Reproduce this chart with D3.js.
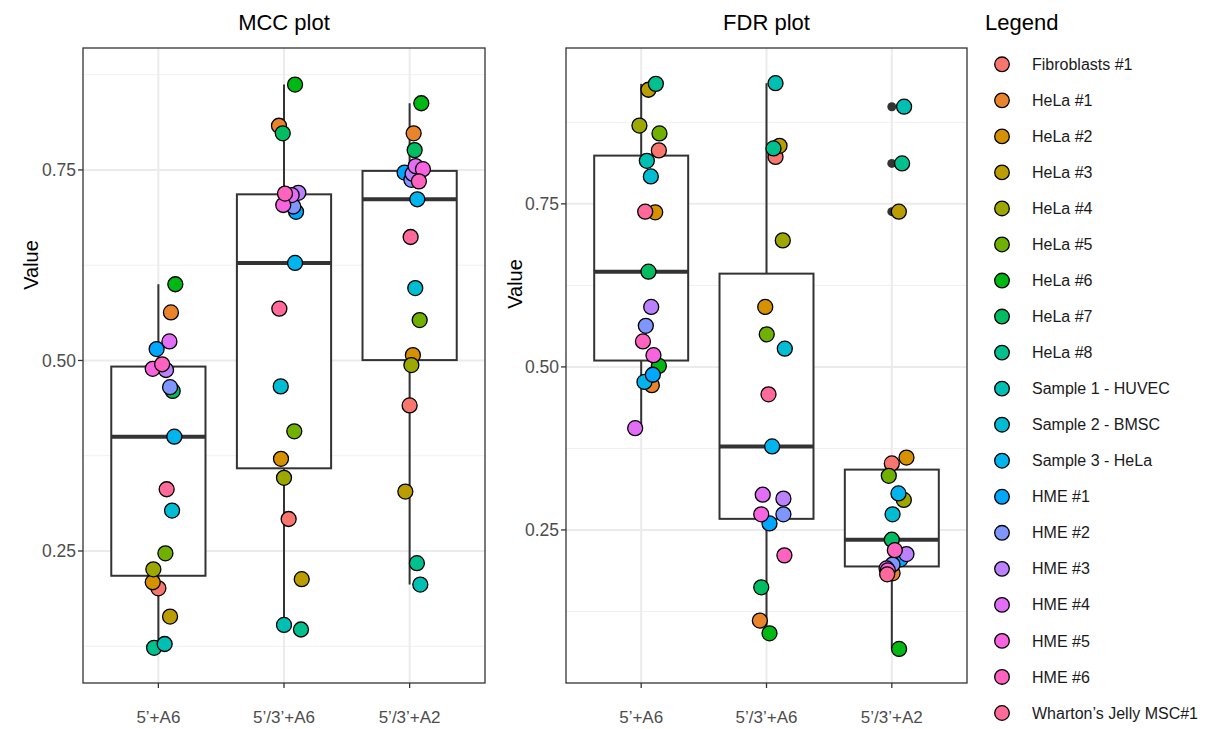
<!DOCTYPE html>
<html><head><meta charset="utf-8">
<script src="https://cdn.jsdelivr.net/npm/d3@7"></script>
<style>body{margin:0;background:#fff;} svg{display:block;font-family:"Liberation Sans",Arial,sans-serif;}</style>
</head><body><svg id="c" width="1215" height="729"></svg>
<script>
const samples = ["Fibroblasts #1","HeLa #1","HeLa #2","HeLa #3","HeLa #4","HeLa #5","HeLa #6","HeLa #7","HeLa #8",
  "Sample 1 - HUVEC","Sample 2 - BMSC","Sample 3 - HeLa","HME #1","HME #2","HME #3","HME #4","HME #5","HME #6","Wharton’s Jelly MSC#1"];
const categories = ["5’+A6","5’/3’+A6","5’/3’+A2"];
const yTicks = [0.25, 0.5, 0.75];
const yTickLabels = ["0.25","0.50","0.75"];

// MCC values, one per sample (legend order)
const mcc5A6   = [0.201,0.563,0.209,0.164,0.226,0.247,0.600,0.460,0.123,0.128,0.303,0.400,0.515,0.465,0.4875,0.525,0.489,0.495,0.331];
const mcc53A6  = [0.292,0.808,0.371,0.213,0.346,0.407,0.862,0.798,0.147,0.153,0.466,0.628,0.695,0.702,0.720,0.717,0.704,0.719,0.568];
const mcc53A2  = [0.441,0.798,0.507,0.328,0.494,0.553,0.8375,0.776,0.234,0.206,0.595,0.7115,0.7465,0.737,0.745,0.755,0.751,0.735,0.662];
// FDR values
const fdr5A6   = [0.832,0.472,0.737,0.925,0.870,0.858,0.5015,0.646,0.934,0.816,0.792,0.477,0.488,0.563,0.592,0.406,0.518,0.539,0.738];
const fdr53A6  = [0.822,0.111,0.592,0.839,0.694,0.550,0.0915,0.162,0.835,0.935,0.528,0.378,0.260,0.274,0.298,0.304,0.274,0.211,0.458];
const fdr53A2  = [0.352,0.1835,0.361,0.738,0.296,0.333,0.0675,0.235,0.812,0.899,0.274,0.306,0.205,0.197,0.213,0.191,0.188,0.219,0.182];
// horizontal jitter (in category units)
const jitMcc5A6  = [0.00,0.10,-0.045,0.093,-0.04,0.056,0.135,0.114,-0.034,0.05,0.109,0.127,-0.014,0.093,0.061,0.088,-0.045,0.03,0.066];
const jitMcc53A6 = [0.037,-0.04,-0.024,0.141,0.0,0.082,0.088,-0.01,0.135,0.0,-0.026,0.088,0.096,0.074,0.114,0.061,-0.006,0.008,-0.037];
const jitMcc53A2 = [0.0,0.032,0.026,-0.034,0.014,0.08,0.093,0.04,0.058,0.085,0.045,0.061,-0.04,0.014,0.024,0.048,0.106,0.074,0.008];
const jitFdr5A6  = [0.141,0.085,0.112,0.058,-0.014,0.146,0.141,0.058,0.117,0.045,0.077,0.026,0.093,0.037,0.08,-0.048,0.098,0.014,0.032];
const jitFdr53A6 = [0.072,-0.053,-0.01,0.104,0.13,0.002,0.024,-0.042,0.056,0.072,0.146,0.045,0.024,0.135,0.135,-0.03,-0.042,0.143,0.016];
const jitFdr53A2 = [0.0,0.006,0.117,0.056,0.096,-0.024,0.058,0.0,0.082,0.098,0.006,0.053,0.069,0.006,0.117,-0.042,-0.032,0.024,-0.037];

// ggplot hue palette (polarLUV -> sRGB)
function hcl2hex(h, c, l) {
  const hr = h * Math.PI / 180, U = c * Math.cos(hr), V = c * Math.sin(hr);
  const Xn = 95.047, Yn = 100, Zn = 108.883;
  const Y = l > 8 ? Yn * Math.pow((l + 16) / 116, 3) : Yn * l / 903.3;
  const t = Xn + 15 * Yn + 3 * Zn, un = 4 * Xn / t, vn = 9 * Yn / t;
  const u = U / (13 * l) + un, v = V / (13 * l) + vn;
  const X = 9 * Y * u / (4 * v), Z = -X / 3 - 5 * Y + 3 * Y / v;
  const lin = [
    (3.240479 * X - 1.537150 * Y - 0.498535 * Z) / 100,
    (-0.969256 * X + 1.875992 * Y + 0.041556 * Z) / 100,
    (0.055648 * X - 0.204043 * Y + 1.057311 * Z) / 100];
  const g = lin.map(x => { const s = x <= 0.0031308 ? 12.92 * x : 1.055 * Math.pow(x, 1 / 2.4) - 0.055; return Math.round(Math.max(0, Math.min(1, s)) * 255); });
  return d3.rgb(g[0], g[1], g[2]).formatHex();
}
const palette = samples.map((s, i) => hcl2hex(15 + 360 * i / samples.length, 100, 65));
const color = d3.scaleOrdinal().domain(samples).range(palette);

const svg = d3.select("#c");

function panel(cfg) {
  const y = d3.scaleLinear().domain(cfg.domain).range([683, 48]);
  const x = d3.scalePoint().domain(categories).range([cfg.x0, cfg.x1]).padding(0.6);
  const g = svg.append("g");
  g.append("rect").attr("x", cfg.x0).attr("y", 48).attr("width", cfg.x1 - cfg.x0).attr("height", 635).attr("fill", "#fff");
  const minor = [0.125, 0.375, 0.625, 0.875].filter(v => v > cfg.domain[0] && v < cfg.domain[1]);
  g.selectAll(".mn").data(minor).join("line")
    .attr("x1", cfg.x0).attr("x2", cfg.x1).attr("y1", d => y(d)).attr("y2", d => y(d))
    .attr("stroke", "#F0F0F0").attr("stroke-width", 1);
  g.selectAll(".mj").data(yTicks).join("line")
    .attr("x1", cfg.x0).attr("x2", cfg.x1).attr("y1", d => y(d)).attr("y2", d => y(d))
    .attr("stroke", "#EBEBEB").attr("stroke-width", 2);
  g.selectAll(".vx").data(categories).join("line")
    .attr("x1", d => x(d)).attr("x2", d => x(d)).attr("y1", 48).attr("y2", 683)
    .attr("stroke", "#EBEBEB").attr("stroke-width", 2);

  const bw = x.step() * 0.75;
  cfg.series.forEach((vals, ci) => {
    const cat = categories[ci];
    const s = vals.slice().sort(d3.ascending);
    const q1 = d3.quantile(s, 0.25), med = d3.quantile(s, 0.5), q3 = d3.quantile(s, 0.75);
    const iqr = q3 - q1;
    const inside = s.filter(v => v >= q1 - 1.5 * iqr && v <= q3 + 1.5 * iqr);
    const lo = d3.min(inside), hi = d3.max(inside);
    const outl = s.filter(v => v < lo || v > hi);
    const cx = x(cat);
    g.append("line").attr("x1", cx).attr("x2", cx).attr("y1", y(hi)).attr("y2", y(q3)).attr("stroke", "#333").attr("stroke-width", 2);
    g.append("line").attr("x1", cx).attr("x2", cx).attr("y1", y(q1)).attr("y2", y(lo)).attr("stroke", "#333").attr("stroke-width", 2);
    g.append("rect").attr("x", cx - bw / 2).attr("y", y(q3)).attr("width", bw).attr("height", y(q1) - y(q3))
      .attr("fill", "#fff").attr("stroke", "#333").attr("stroke-width", 2);
    g.append("line").attr("x1", cx - bw / 2).attr("x2", cx + bw / 2).attr("y1", y(med)).attr("y2", y(med))
      .attr("stroke", "#333").attr("stroke-width", 4);
    g.selectAll(null).data(outl).join("circle")
      .attr("cx", cx).attr("cy", d => y(d)).attr("r", 4.5).attr("fill", "#333");
  });
  cfg.series.forEach((vals, ci) => {
    const cat = categories[ci];
    g.selectAll(null).data(vals.map((v, i) => ({v, i}))).join("circle")
      .attr("cx", d => x(cat) + cfg.jit[ci][d.i] * x.step())
      .attr("cy", d => y(d.v)).attr("r", 7.5)
      .attr("fill", d => color(samples[d.i])).attr("stroke", "#000").attr("stroke-width", 1.3);
  });
  g.append("rect").attr("x", cfg.x0).attr("y", 48).attr("width", cfg.x1 - cfg.x0).attr("height", 635)
    .attr("fill", "none").attr("stroke", "#333").attr("stroke-width", 1.3);
  g.selectAll(".yt").data(yTicks).join("line")
    .attr("x1", cfg.x0 - 5).attr("x2", cfg.x0).attr("y1", d => y(d)).attr("y2", d => y(d)).attr("stroke", "#333").attr("stroke-width", 1.3);
  g.selectAll(".yl").data(yTicks).join("text")
    .attr("x", cfg.x0 - 7).attr("y", d => y(d)).attr("dy", "0.35em").attr("text-anchor", "end")
    .attr("font-size", 17.5).attr("fill", "#4D4D4D").text((d, i) => yTickLabels[i]);
  g.selectAll(".xt").data(categories).join("line")
    .attr("x1", d => x(d)).attr("x2", d => x(d)).attr("y1", 683).attr("y2", 688).attr("stroke", "#333").attr("stroke-width", 1.3);
  g.selectAll(".xl").data(categories).join("text")
    .attr("x", d => x(d)).attr("y", 723).attr("text-anchor", "middle")
    .attr("font-size", 17).attr("fill", "#4D4D4D").text(d => d);
  g.append("text").attr("x", (cfg.x0 + cfg.x1) / 2).attr("y", 30).attr("text-anchor", "middle")
    .attr("font-size", 22).attr("fill", "#000").text(cfg.title);
  g.append("text").attr("transform", `translate(${cfg.ytx},${cfg.yty}) rotate(-90)`).attr("text-anchor", "middle")
    .attr("dy", "0.35em").attr("font-size", 20).attr("fill", "#000").text("Value");
}

panel({x0: 83, x1: 485, domain: [0.0768, 0.910], title: "MCC plot", ytx: 31, yty: 265,
  series: [mcc5A6, mcc53A6, mcc53A2], jit: [jitMcc5A6, jitMcc53A6, jitMcc53A2]});
panel({x0: 566, x1: 967, domain: [0.0153, 0.989], title: "FDR plot", ytx: 515, yty: 284,
  series: [fdr5A6, fdr53A6, fdr53A2], jit: [jitFdr5A6, jitFdr53A6, jitFdr53A2]});

const lg = svg.append("g");
lg.append("text").attr("x", 985).attr("y", 30).attr("font-size", 22).attr("fill", "#000").text("Legend");
const ly = d3.scalePoint().domain(samples).range([64.3, 713]);
lg.selectAll("circle").data(samples).join("circle")
  .attr("cx", 1002).attr("cy", d => ly(d)).attr("r", 7.3)
  .attr("fill", d => color(d)).attr("stroke", "#000").attr("stroke-width", 1.3);
lg.selectAll("text.it").data(samples).join("text").attr("class", "it")
  .attr("x", 1032).attr("y", d => ly(d)).attr("dy", "0.35em")
  .attr("font-size", 16).attr("fill", "#1A1A1A").text(d => d);
</script></body></html>
